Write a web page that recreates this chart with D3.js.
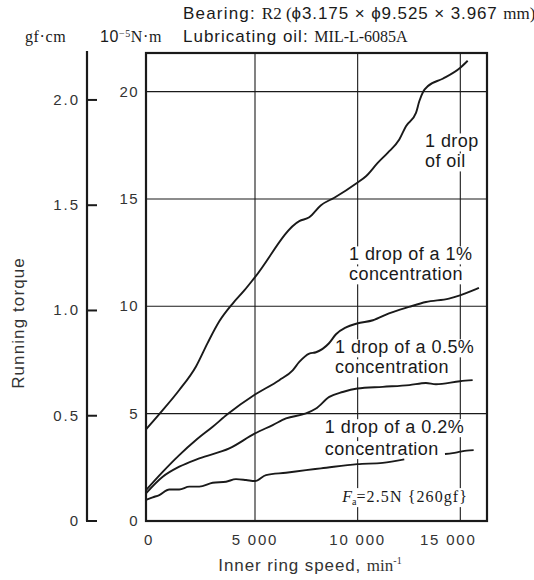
<!DOCTYPE html>
<html>
<head>
<meta charset="utf-8">
<script src="https://cdn.jsdelivr.net/npm/d3@7"></script>
<style>
  body { margin: 0; background: #fff; }
  svg { display: block; }
  .sans { font-family: "Liberation Sans", Arial, sans-serif; }
  .serif { font-family: "Liberation Serif", "Times New Roman", serif; }
</style>
</head>
<body>
<svg id="chart" width="534" height="580"></svg>
<script>
  // inner ring speed (min^-1) and running torque (10^-5 N·m)
  var oilSpeed  = [0, 610, 1527, 2294, 2830, 3363, 3977, 4509, 5000, 7157, 7644, 8214, 8862, 9982, 10406, 10976, 11463, 12028, 12354, 12841, 13002, 13197, 13411, 14142, 14984, 15359];
  var oilTorque = [4.27, 4.98, 6.1, 7.2, 8.3, 9.3, 10.13, 10.74, 11.36, 13.97, 14.15, 14.71, 15.06, 15.76, 16.06, 16.68, 17.15, 17.77, 18.39, 19.01, 19.55, 20.01, 20.25, 20.6, 21.1, 21.44];

  var c1Speed  = [0, 766, 1527, 2294, 3060, 3748, 5000, 6183, 6836, 7157, 7644, 7971, 8604, 8945, 9432, 9967, 10746, 11525, 12499, 13327, 14447, 14983, 15616, 15908];
  var c1Torque = [1.44, 2.29, 3.07, 3.77, 4.39, 4.98, 5.89, 6.56, 7.02, 7.41, 7.8, 7.86, 8.28, 8.7, 9.02, 9.2, 9.35, 9.67, 9.97, 10.2, 10.36, 10.51, 10.74, 10.86];

  var c05Speed  = [0, 766, 1527, 2445, 3821, 5000, 5862, 6510, 7484, 7971, 8619, 9271, 9982, 11219, 12514, 13327, 13814, 14983, 15601];
  var c05Torque = [1.29, 2.06, 2.53, 2.92, 3.38, 4.08, 4.47, 4.78, 5.01, 5.24, 5.78, 6.01, 6.17, 6.25, 6.33, 6.43, 6.37, 6.51, 6.56];

  // null marks the break in the trace behind the label
  var c02Speed  = [0, 307, 610, 1069, 1527, 1986, 2445, 3060, 3670, 4128, 4587, 5000, 5536, 6510, 7484, 8214, 9982, 11219, 12271, 13000, 14253, 14628, 15000, 15310, 15650];
  var c02Torque = [0.98, 1.1, 1.21, 1.47, 1.47, 1.6, 1.6, 1.78, 1.83, 1.95, 1.91, 1.86, 2.14, 2.25, 2.37, 2.45, 2.65, 2.71, 2.87, null, 3.12, 3.16, 3.23, 3.28, 3.3];

  var xTicks = [0, 5000, 10000, 15000];
  var xTickLabels = ["0", "5 000", "10 000", "15 000"];
  var nmTicks = [0, 5, 10, 15, 20];
  var gfTicks = [0, 0.5, 1.0, 1.5, 2.0];
  var gfTickLabels = ["0", "0.5", "1.0", "1.5", "2.0"];

  var svg = d3.select("#chart");

  // scan is slightly stretched between 0 and 5000
  var x = d3.scaleLinear().domain([0, 5000, 16300]).range([146, 255, 487]);
  var y = d3.scaleLinear().domain([0, 21.8]).range([521, 53]);
  var yGf = d3.scaleLinear().domain([0, 21.8 / 9.80665]).range([521, 53]);

  var ink = "#1a1a1a";

  // grid
  var grid = svg.append("g").attr("stroke", ink).attr("stroke-width", 1.1);
  grid.selectAll(".vg").data(xTicks.slice(1)).enter().append("line")
    .attr("x1", function(d){ return x(d); }).attr("x2", function(d){ return x(d); })
    .attr("y1", y.range()[1]).attr("y2", y(0));
  grid.selectAll(".hg").data(nmTicks.slice(1)).enter().append("line")
    .attr("x1", x(0)).attr("x2", x.range()[2])
    .attr("y1", function(d){ return y(d); }).attr("y2", function(d){ return y(d); });

  // labels in the plot, with white patches that break the grid
  var labels = [
    {lines: ["1 drop", "of oil"], sx: 13280, ty: [17.4, 16.47]},
    {lines: ["1 drop of a 1%", "concentration"], sx: 9578, ty: [12.14, 11.21]},
    {lines: ["1 drop of a 0.5%", "concentration"], sx: 8897, ty: [7.81, 6.88]},
    {lines: ["1 drop of a 0.2%", "concentration"], sx: 8400, ty: [4.09, 3.07]}
  ];
  var lab = svg.append("g");
  labels.forEach(function(l){
    l.lines.forEach(function(s, i){
      var t = lab.append("text").attr("class", "sans")
        .attr("x", x(l.sx)).attr("y", y(l.ty[i]))
        .attr("font-size", 18).attr("letter-spacing", 0.45).attr("fill", ink).text(s);
      var b = t.node().getBBox();
      lab.insert("rect", "text").attr("x", b.x - 1).attr("y", b.y + 2)
        .attr("width", b.width + 2).attr("height", b.height - 2).attr("fill", "#fff");
    });
  });

  var fa = lab.append("text").attr("class", "serif").attr("x", x(9250)).attr("y", y(0.88))
    .attr("font-size", 16).attr("fill", ink);
  fa.append("tspan").attr("font-style", "italic").text("F");
  fa.append("tspan").attr("font-size", 10).attr("dy", 3).text("a");
  fa.append("tspan").attr("dy", -3).attr("letter-spacing", 1.1).text("=2.5N {260gf}");
  var fb = fa.node().getBBox();
  lab.insert("rect", "text").attr("x", fb.x - 2).attr("y", fb.y)
    .attr("width", fb.width + 4).attr("height", fb.height).attr("fill", "#fff");

  // frame
  svg.append("rect").attr("x", x(0)).attr("y", y.range()[1])
    .attr("width", x.range()[2] - x(0)).attr("height", y(0) - y.range()[1])
    .attr("fill", "none").attr("stroke", ink).attr("stroke-width", 2.2);

  // curves
  var line = d3.line()
    .defined(function(d){ return d[1] !== null; })
    .x(function(d){ return x(d[0]); })
    .y(function(d){ return y(d[1]); })
    .curve(d3.curveMonotoneX);
  var series = [[oilSpeed, oilTorque], [c1Speed, c1Torque], [c05Speed, c05Torque], [c02Speed, c02Torque]];
  svg.append("g").selectAll("path").data(series).enter().append("path")
    .attr("d", function(s){ return line(d3.zip(s[0], s[1])); })
    .attr("fill", "none").attr("stroke", ink).attr("stroke-width", 1.9)
    .attr("stroke-linejoin", "round");

  // N·m tick labels
  svg.append("g").selectAll("text").data(nmTicks).enter().append("text")
    .attr("class", "sans").attr("x", 139).attr("y", function(d){ return y(d) + 5; })
    .attr("text-anchor", "end").attr("font-size", 15).attr("letter-spacing", 1.4)
    .attr("fill", "#333").text(function(d){ return d; });

  // gf·cm axis
  var ax = svg.append("g");
  ax.append("line").attr("x1", 87).attr("x2", 87).attr("y1", 51).attr("y2", y(0))
    .attr("stroke", ink).attr("stroke-width", 2.2);
  ax.selectAll(".tk").data(gfTicks).enter().append("line")
    .attr("x1", 86).attr("x2", 97)
    .attr("y1", function(d){ return yGf(d); }).attr("y2", function(d){ return yGf(d); })
    .attr("stroke", ink).attr("stroke-width", 2);
  ax.selectAll("text").data(gfTicks).enter().append("text")
    .attr("class", "sans").attr("x", 80).attr("y", function(d){ return yGf(d) + 5; })
    .attr("text-anchor", "end").attr("font-size", 15).attr("letter-spacing", 2)
    .attr("fill", "#333").text(function(d, i){ return gfTickLabels[i]; });

  // x tick labels (the last one sits a little left of its grid line in the original)
  svg.append("g").selectAll("text").data(xTicks).enter().append("text")
    .attr("class", "sans").attr("x", function(d){ return x(d); })
    .attr("dx", function(d, i){ return i === 0 ? 3 : (i === 3 ? -12 : 0); })
    .attr("y", 545).attr("text-anchor", "middle").attr("font-size", 15)
    .attr("letter-spacing", 1.8).attr("fill", "#333")
    .text(function(d, i){ return xTickLabels[i]; });

  // axis titles
  var xt = svg.append("text").attr("class", "sans").attr("x", 310).attr("y", 571)
    .attr("text-anchor", "middle").attr("font-size", 17).attr("fill", "#333");
  xt.append("tspan").attr("letter-spacing", 0.9).text("Inner ring speed, ");
  xt.append("tspan").attr("class", "serif").attr("font-size", 17).text("min");
  xt.append("tspan").attr("class", "serif").attr("font-size", 10).attr("dy", -7).text("-1");

  svg.append("text").attr("class", "sans")
    .attr("transform", "translate(24,323) rotate(-90)")
    .attr("text-anchor", "middle").attr("font-size", 17).attr("letter-spacing", 1.1)
    .attr("fill", "#333").text("Running torque");

  // units and header
  svg.append("text").attr("class", "serif").attr("x", 25).attr("y", 42)
    .attr("font-size", 16).attr("letter-spacing", 0.6).attr("fill", ink).text("gf\u00b7cm");
  var nm = svg.append("text").attr("class", "serif").attr("x", 100).attr("y", 42)
    .attr("font-size", 16).attr("letter-spacing", 0.6).attr("fill", ink);
  nm.append("tspan").attr("class", "sans").text("10");
  nm.append("tspan").attr("font-size", 10).attr("dy", -5).text("\u22125");
  nm.append("tspan").attr("dy", 5).text("N\u00b7m");

  var h1 = svg.append("text").attr("x", 183).attr("y", 19).attr("font-size", 17).attr("fill", ink);
  h1.append("tspan").attr("class", "sans").attr("letter-spacing", 1.2).text("Bearing: ");
  h1.append("tspan").attr("class", "serif").attr("font-size", 17).text("R2 (");
  h1.append("tspan").attr("class", "sans").attr("font-size", 17).attr("letter-spacing", 0.9)
    .text("\u03d53.175 \u00d7 \u03d59.525 \u00d7 3.967 ");
  h1.append("tspan").attr("class", "serif").attr("font-size", 17).text("mm)");
  var h2 = svg.append("text").attr("x", 183).attr("y", 42).attr("font-size", 17).attr("fill", ink);
  h2.append("tspan").attr("class", "sans").attr("letter-spacing", 1).text("Lubricating oil: ");
  h2.append("tspan").attr("class", "serif").attr("font-size", 16).text("MIL-L-6085A");
</script>
</body>
</html>
